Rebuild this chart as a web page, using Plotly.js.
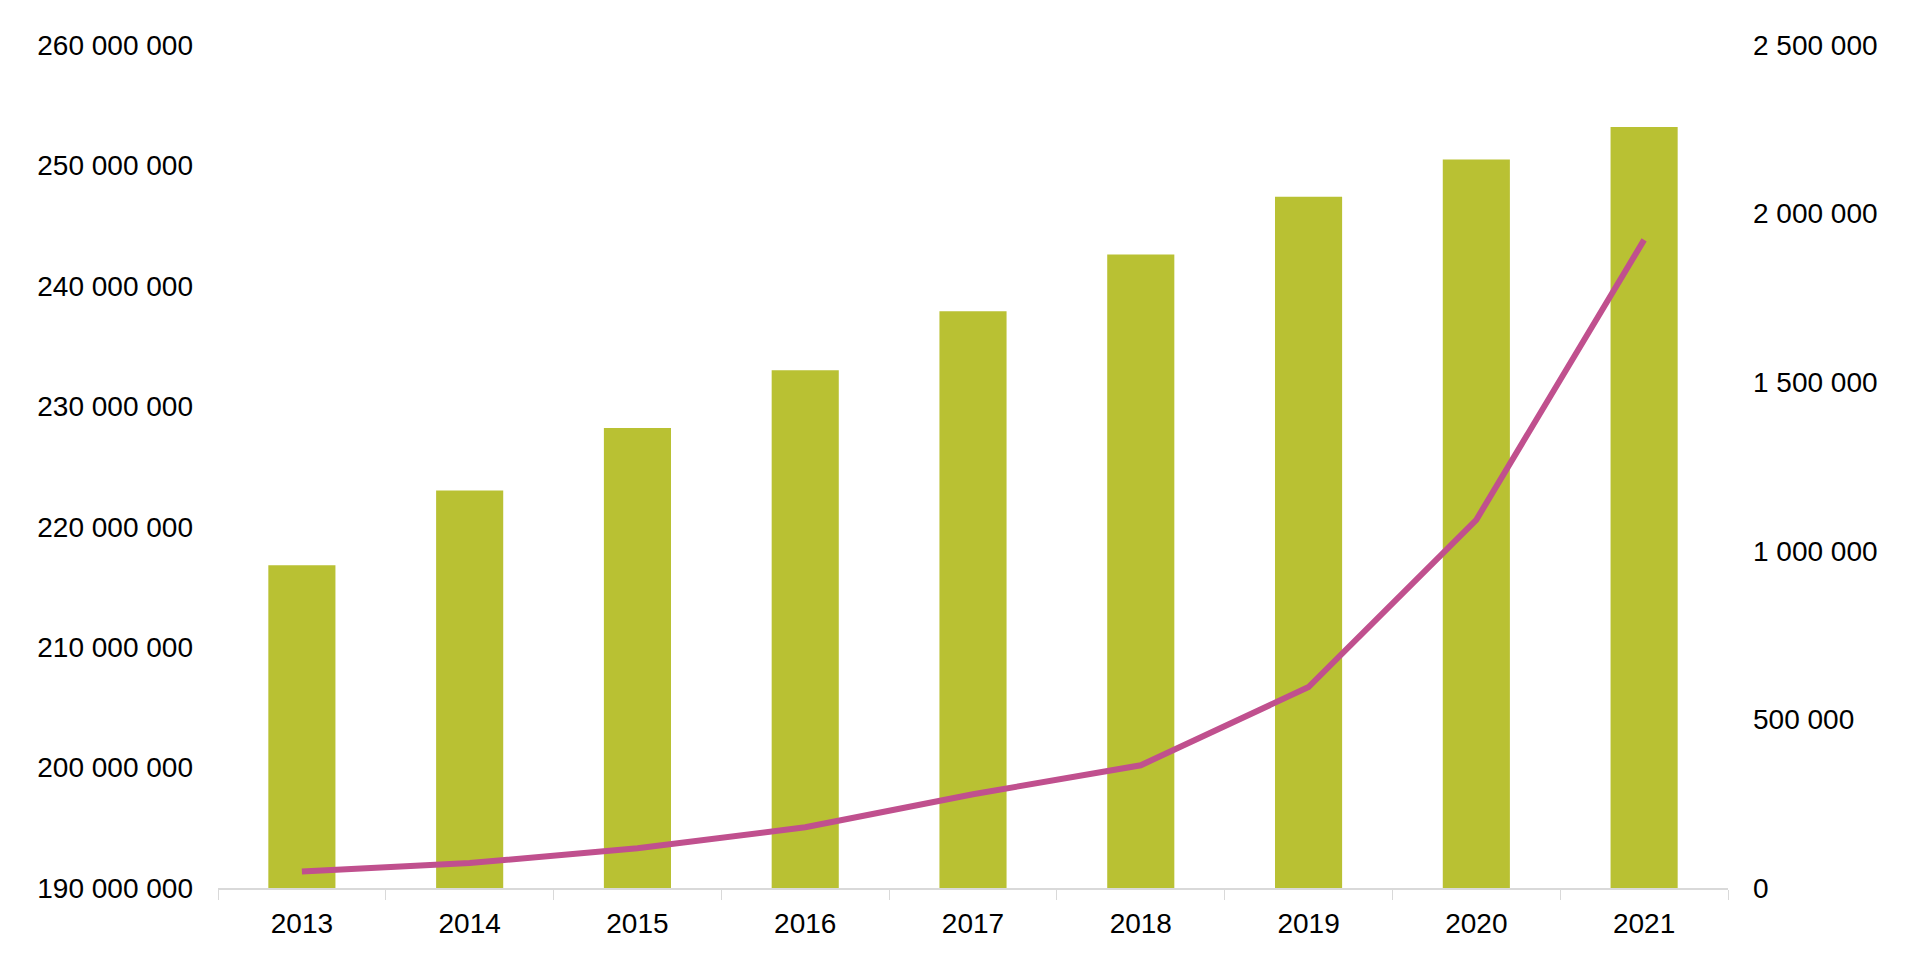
<!DOCTYPE html>
<html>
<head>
<meta charset="utf-8">
<script src="https://cdn.plot.ly/plotly-3.0.1.min.js"></script>
<style>
  html, body { margin: 0; padding: 0; background: #ffffff; }
  #chart { width: 1920px; height: 961px; }
</style>
</head>
<body>
<div id="chart"></div>
<script>
const years = ['2013', '2014', '2015', '2016', '2017', '2018', '2019', '2020', '2021'];
const barValues = [216800000, 223000000, 228200000, 233000000, 237900000, 242600000, 247400000, 250500000, 253200000];
const lineValues = [49000, 74000, 118000, 180000, 278000, 364000, 596000, 1092000, 1922000];
const leftTicks = [190000000, 200000000, 210000000, 220000000, 230000000, 240000000, 250000000, 260000000];
const rightTicks = [0, 500000, 1000000, 1500000, 2000000, 2500000];

const fontFamily = '"Liberation Sans", Arial, sans-serif';

const traces = [
  {
    type: 'bar',
    x: years,
    y: barValues,
    marker: { color: '#b9c133', line: { width: 0 } },
    yaxis: 'y',
    hoverinfo: 'skip'
  },
  {
    type: 'scatter',
    mode: 'lines',
    x: years,
    y: lineValues,
    line: { color: '#c0508e', width: 6 },
    yaxis: 'y2',
    hoverinfo: 'skip'
  }
];

const layout = {
  width: 1920,
  height: 961,
  margin: { l: 218, r: 192, t: 45, b: 73 },
  paper_bgcolor: '#ffffff',
  plot_bgcolor: '#ffffff',
  showlegend: false,
  separators: '. ',
  bargap: 0.6,
  font: { family: fontFamily, size: 28, color: '#000000' },
  xaxis: {
    type: 'category',
    showgrid: false,
    zeroline: false,
    showline: true,
    linecolor: '#d9d9d9',
    linewidth: 2,
    ticks: 'outside',
    tickson: 'boundaries',
    ticklen: 10,
    tickwidth: 1,
    tickcolor: '#d9d9d9',
    ticklabelstandoff: 9,
    tickfont: { family: fontFamily, size: 28, color: '#000000' }
  },
  yaxis: {
    range: [190000000, 260000000],
    tickvals: leftTicks,
    tickformat: ',d',
    showgrid: false,
    zeroline: false,
    showline: false,
    ticks: '',
    ticklabelstandoff: 24,
    tickfont: { family: fontFamily, size: 28, color: '#000000' }
  },
  yaxis2: {
    overlaying: 'y',
    side: 'right',
    range: [0, 2500000],
    tickvals: rightTicks,
    tickformat: ',d',
    showgrid: false,
    zeroline: false,
    showline: false,
    ticks: '',
    ticklabelstandoff: 24,
    tickfont: { family: fontFamily, size: 28, color: '#000000' }
  }
};

Plotly.newPlot('chart', traces, layout, { displayModeBar: false, staticPlot: true });
</script>
</body>
</html>
